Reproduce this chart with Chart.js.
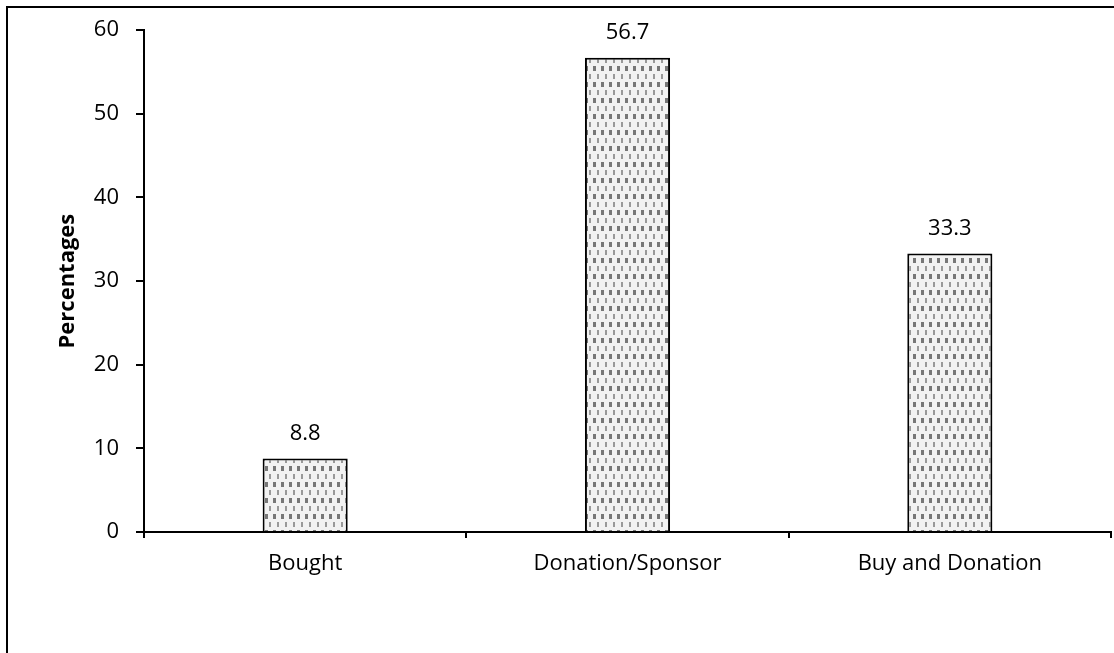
<!DOCTYPE html>
<html>
<head>
<meta charset="utf-8">
<script src="https://cdn.jsdelivr.net/npm/chart.js@4"></script>
<style>
  body { margin: 0; background: #fff; overflow: hidden; }
  #frame { position: absolute; left: 6px; top: 6px; width: 1200px; height: 800px; border: 2px solid #000; }
  #wrap { position: absolute; left: 0; top: 0; width: 1114px; height: 653px; }
</style>
</head>
<body>
<div id="frame"></div>
<div id="wrap"><canvas id="sourceChart"></canvas></div>
<script>
const categories = ["Bought", "Donation/Sponsor", "Buy and Donation"];
const percentages = [8.8, 56.7, 33.3];
const yTicks = [0, 10, 20, 30, 40, 50, 60];

// dotted fill like the original bars
function makePattern() {
  const c = document.createElement("canvas");
  c.width = 8;
  c.height = 16;
  const p = c.getContext("2d");
  p.fillStyle = "#f2f2f2";
  p.fillRect(0, 0, 8, 16);
  p.fillStyle = "#777";
  p.fillRect(1, 2, 3, 5);
  p.fillStyle = "#999";
  p.fillRect(5, 10, 2, 5);
  return p.createPattern(c, "repeat");
}

// values above bars
const barLabels = {
  id: "barLabels",
  afterDatasetsDraw(chart) {
    const ctx = chart.ctx;
    const meta = chart.getDatasetMeta(0);
    ctx.save();
    ctx.font = "22px 'Open Sans'";
    ctx.fillStyle = "#000";
    ctx.textAlign = "center";
    ctx.textBaseline = "bottom";
    meta.data.forEach((bar, i) => {
      ctx.fillText(percentages[i].toFixed(1), bar.x, bar.y - 14);
    });
    ctx.restore();
  }
};

const ctx = document.getElementById("sourceChart").getContext("2d");
new Chart(ctx, {
  type: "bar",
  data: {
    labels: categories,
    datasets: [{
      data: percentages,
      backgroundColor: makePattern(),
      borderColor: "#000",
      borderWidth: 2,
      borderSkipped: "bottom",
      categoryPercentage: 1,
      barPercentage: 0.264
    }]
  },
  options: {
    responsive: true,
    maintainAspectRatio: false,
    animation: false,
    layout: { padding: { top: 25, right: 3, left: 0, bottom: 0 } },
    plugins: {
      legend: { display: false },
      tooltip: { enabled: false }
    },
    scales: {
      x: {
        grid: { drawOnChartArea: false, color: "#000", lineWidth: 2, tickLength: 6 },
        border: { color: "#000", width: 2 },
        ticks: { color: "#000", font: { family: "'Open Sans'", size: 22 }, padding: 13 },
        afterFit: s => { s.height = 653 - 25 - 507; }
      },
      y: {
        min: 0,
        max: 60,
        afterBuildTicks: s => { s.ticks = yTicks.map(v => ({ value: v })); },
        grid: { drawOnChartArea: false, color: "#000", lineWidth: 2, tickLength: 8 },
        border: { color: "#000", width: 2 },
        ticks: { color: "#000", font: { family: "'Open Sans'", size: 22 }, padding: 17 },
        title: {
          display: true,
          text: "Percentages",
          color: "#000",
          font: { family: "'Open Sans'", size: 22, weight: "bold" },
          padding: { top: 55, bottom: 0 }
        },
        afterFit: s => { s.width = 144; }
      }
    }
  },
  plugins: [barLabels]
});
</script>
</body>
</html>
